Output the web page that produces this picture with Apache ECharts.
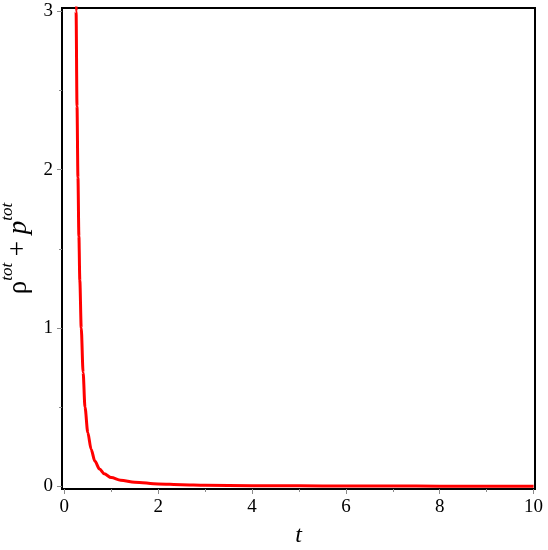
<!DOCTYPE html>
<html>
<head>
<meta charset="utf-8">
<script src="https://cdn.jsdelivr.net/npm/echarts@6/dist/echarts.min.js"></script>
<style>
    html, body { margin: 0; padding: 0; background: #fff; }
    #chart { width: 548px; height: 550px; }
</style>
</head>
<body>
<div id="chart"></div>
<script>
// values
const tValues = [0.245, 0.25, 0.27, 0.29, 0.31, 0.33, 0.36, 0.40, 0.44, 0.50, 0.57, 0.65, 0.75, 0.85, 1.0, 1.2, 1.5, 2.0, 2.5, 3, 4, 5, 6, 7, 8, 9, 10]
const rhoPlusP = [3.2, 3.0, 2.4, 1.95, 1.58, 1.3, 1.0, 0.72, 0.50, 0.34, 0.235, 0.16, 0.11, 0.08, 0.056, 0.04, 0.027, 0.016, 0.011, 0.008, 0.005, 0.004, 0.003, 0.003, 0.002, 0.002, 0.002]
const xMajor = [0, 2, 4, 6, 8, 10]
const xMinor = [1, 3, 5, 7, 9]
const yMajor = [0, 1, 2, 3]
const yMinor = [0.5, 1.5, 2.5]

const chart = echarts.init(document.getElementById('chart'))
const serif = '"Liberation Serif", "DejaVu Serif", serif'

const tickStyle = { color: '#8a8a8a', width: 1 }
const frameLine = { show: true, onZero: false, lineStyle: { color: '#000', width: 2 } }
const noLine = { show: false, onZero: false }

chart.setOption({
    backgroundColor: '#fff',
    animation: false,
    grid: {
        left: 62, top: 8, width: 473, height: 481,
        containLabel: false, outerBoundsMode: 'none',
        show: true, borderColor: '#000', borderWidth: 2
    },
    xAxis: [
        {
            type: 'value', min: -0.05, max: 10.03, position: 'bottom',
            name: 't', nameLocation: 'middle', nameGap: 35,
            nameTextStyle: { fontFamily: serif, fontStyle: 'italic', fontSize: 24, color: '#000' },
            axisLine: frameLine,
            splitLine: { show: false },
            axisTick: { show: true, length: 5, lineStyle: tickStyle, customValues: xMajor },
            axisLabel: { customValues: xMajor, fontFamily: serif, fontSize: 19, color: '#000', margin: 9 }
        },
        {
            type: 'value', min: -0.05, max: 10.03, position: 'bottom',
            axisLine: noLine,
            splitLine: { show: false },
            axisTick: { show: true, length: 3, lineStyle: tickStyle, customValues: xMinor },
            axisLabel: { show: false }
        }
    ],
    yAxis: [
        {
            type: 'value', min: -0.016, max: 3.02, position: 'left',
            name: '{b|ρ}{s|tot}{b| + }{i|p}{s|tot}',
            nameLocation: 'middle', nameRotate: 90, nameGap: 17,
            nameTextStyle: {
                color: '#000',
                rich: {
                    b: { fontFamily: serif, fontSize: 27, lineHeight: 34, verticalAlign: 'bottom', color: '#000' },
                    i: { fontFamily: serif, fontSize: 27, fontStyle: 'italic', lineHeight: 34, verticalAlign: 'bottom', color: '#000' },
                    s: { fontFamily: serif, fontSize: 17, fontStyle: 'italic', lineHeight: 16, verticalAlign: 'top', color: '#000' }
                }
            },
            axisLine: frameLine,
            splitLine: { show: false },
            axisTick: { show: true, length: 5, lineStyle: tickStyle, customValues: yMajor },
            axisLabel: { customValues: yMajor, fontFamily: serif, fontSize: 19, color: '#000', margin: 9 }
        },
        {
            type: 'value', min: -0.016, max: 3.02, position: 'left',
            axisLine: noLine,
            splitLine: { show: false },
            axisTick: { show: true, length: 3, lineStyle: tickStyle, customValues: yMinor },
            axisLabel: { show: false }
        }
    ],
    series: [
        {
            type: 'line',
            xAxisIndex: 0,
            yAxisIndex: 0,
            data: tValues.map((t, i) => [t, rhoPlusP[i]]),
            smooth: 0.3,
            smoothMonotone: 'x',
            symbol: 'none',
            clip: true,
            lineStyle: { color: '#ff0000', width: 3 }
        }
    ]
})
</script>
</body>
</html>
